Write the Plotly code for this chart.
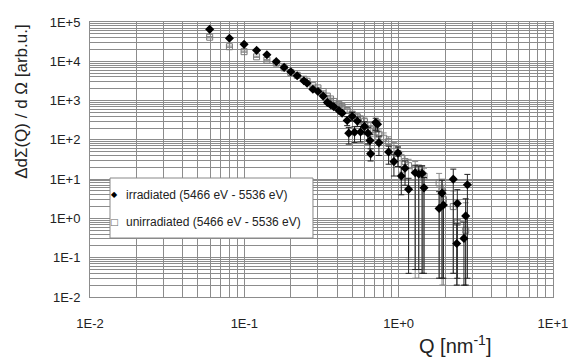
import plotly.graph_objects as go

# ---------------- data ----------------
irr_q = [0.0596, 0.080, 0.0996, 0.120, 0.140, 0.161, 0.181, 0.200, 0.220, 0.243,
         0.255, 0.278, 0.300, 0.324, 0.345, 0.362, 0.380, 0.410, 0.430, 0.464,
         0.475, 0.500, 0.518, 0.540, 0.566, 0.600, 0.632, 0.652, 0.658, 0.710,
         0.730, 0.745, 0.861, 0.932, 0.990, 1.04, 1.10, 1.16, 1.28, 1.35,
         1.42, 1.46, 1.83, 1.91, 1.95, 2.26, 2.38, 2.40, 2.65, 2.72, 2.79]
irr_i = [6.5e4, 3.85e4, 2.7e4, 1.9e4, 1.47e4, 9.8e3, 7.0e3, 5.4e3, 4.3e3, 3.2e3,
         2.75e3, 1.95e3, 1.7e3, 1.3e3, 900, 780, 700, 560, 480, 310,
         148, 400, 156, 300, 158, 220, 148, 96, 44, 275,
         250, 85, 49, 28, 46, 12, 19, 5.5, 14.6, 13.5,
         14, 6.0, 1.8, 4.4, 2.2, 10, 0.23, 2.4, 0.31, 1.16, 7.2]
irr_err_hi = [2e3, 1.2e3, 800, 600, 450, 300, 220, 170, 140, 110,
              100, 80, 70, 60, 50, 45, 40, 40, 40, 80,
              60, 100, 60, 80, 60, 70, 60, 40, 15, 80,
              70, 40, 20, 15, 20, 8, 10, 5, 8, 8,
              8, 5, 3, 5, 3, 8, 0.5, 3, 0.5, 2, 6]
irr_err_lo = [2e3, 1.2e3, 800, 600, 450, 300, 220, 170, 140, 110,
              100, 80, 70, 60, 50, 45, 40, 40, 40, 80,
              70, 100, 70, 80, 70, 80, 70, 50, 15, 100,
              90, 45, 25, 16, 25, 8, 12, 5.46, 14.55, 13.45,
              13.96, 5.96, 1.77, 4.37, 2.17, 9.96, 0.21, 2.37, 0.29, 1.14, 7.17]

unirr_q = [0.0596, 0.080, 0.0996, 0.120, 0.140, 0.161, 0.181, 0.200, 0.220, 0.243,
           0.255, 0.278, 0.300, 0.324, 0.345, 0.362, 0.380, 0.410, 0.430, 0.464,
           0.500, 0.540, 0.566, 0.600, 0.632, 0.660, 0.710, 0.745, 0.800, 0.861,
           0.932, 0.990, 1.04, 1.10, 1.16, 1.28, 1.35, 1.42, 1.46, 1.83,
           1.91, 1.95, 2.26, 2.40, 2.72]
unirr_i = [4.1e4, 2.35e4, 1.76e4, 1.3e4, 1.07e4, 9.0e3, 6.8e3, 5.2e3, 4.4e3, 3.5e3,
           3.1e3, 2.4e3, 2.1e3, 1.7e3, 1.3e3, 1.1e3, 950, 800, 700, 560,
           450, 380, 330, 290, 230, 180, 160, 140, 110, 90,
           60, 45, 35, 28, 22, 18, 15, 13, 12, 8,
           5, 3, 2, 0.8, 0.5]
unirr_err_hi = [1.5e3, 900, 600, 450, 350, 300, 220, 170, 150, 120,
                110, 90, 80, 70, 60, 50, 50, 50, 50, 60,
                70, 80, 80, 70, 60, 50, 50, 50, 40, 30,
                25, 20, 15, 12, 10, 10, 8, 8, 7, 6,
                5, 4, 3, 2, 2]
unirr_err_lo = [1.5e3, 900, 600, 450, 350, 300, 220, 170, 150, 120,
                110, 90, 80, 70, 60, 50, 50, 50, 50, 60,
                70, 80, 80, 70, 60, 60, 60, 60, 50, 40,
                30, 25, 20, 18, 21.9, 17.97, 14.97, 12.96, 11.95, 7.97,
                4.98, 2.98, 1.96, 0.78, 0.48]

irr_name = "irradiated (5466 eV - 5536 eV)"
unirr_name = "unirradiated (5466 eV - 5536 eV)"

x_decades = [-2, -1, 0, 1]
y_decades = [-2, -1, 0, 1, 2, 3, 4, 5]


def fmt(k):
    return "1E+%d" % k if k >= 0 else "1E%d" % k


def log_ticks(decades):
    vals, texts = [], []
    for k in decades:
        for m in range(1, 10):
            if k == decades[-1] and m > 1:
                break
            vals.append(m * 10.0 ** k)
            texts.append(fmt(k) if m == 1 else " ")
    return vals, texts


xv, xt = log_ticks(x_decades)
yv, yt = log_ticks(y_decades)

font_main = "Liberation Sans, Arial, sans-serif"
txt_col = "#222222"

fig = go.Figure()
fig.add_trace(go.Scatter(
    x=unirr_q, y=unirr_i, mode="markers", name=unirr_name, showlegend=False,
    marker=dict(symbol="square-open", size=6, color="#7a7a7a", line=dict(width=1, color="#7a7a7a")),
    error_y=dict(type="data", symmetric=False, array=unirr_err_hi, arrayminus=unirr_err_lo,
                 color="#8a8a8a", thickness=1, width=3),
))
fig.add_trace(go.Scatter(
    x=irr_q, y=irr_i, mode="markers", name=irr_name, showlegend=False,
    marker=dict(symbol="diamond", size=7, color="black"),
    error_y=dict(type="data", symmetric=False, array=irr_err_hi, arrayminus=irr_err_lo,
                 color="#222222", thickness=1, width=3),
))

# legend box (drawn in paper coordinates)
fig.add_shape(type="rect", xref="paper", yref="paper",
              x0=0.0432, x1=0.4816, y0=0.2145, y1=0.4327,
              fillcolor="white", line=dict(color="#888888", width=1), layer="above")

legend_font = dict(family=font_main, size=12, color=txt_col)
annotations = [
    dict(text="◆", xref="paper", yref="paper", x=0.052, y=0.371, xanchor="center",
         yanchor="middle", showarrow=False, font=dict(family="DejaVu Sans", size=8, color="black")),
    dict(text=irr_name, xref="paper", yref="paper", x=0.0734, y=0.371, xanchor="left",
         yanchor="middle", showarrow=False, font=legend_font),
    dict(text="□", xref="paper", yref="paper", x=0.052, y=0.273, xanchor="center",
         yanchor="middle", showarrow=False, font=dict(family="DejaVu Sans", size=9, color="#666666")),
    dict(text=unirr_name, xref="paper", yref="paper", x=0.0734, y=0.273, xanchor="left",
         yanchor="middle", showarrow=False, font=legend_font),
    dict(text="Q [nm<sup>-1</sup>]", xref="paper", yref="paper", x=0.788, y=-0.172,
         xanchor="center", yanchor="middle", showarrow=False,
         font=dict(size=20, color=txt_col)),
    dict(text="ΔdΣ(Q) / d Ω [arb.u.]", xref="paper", yref="paper", x=-0.147, y=0.713,
         xanchor="center", yanchor="middle", showarrow=False, textangle=-90,
         font=dict(size=17, color=txt_col)),
]

fig.update_layout(
    width=568, height=358,
    margin=dict(l=90, r=15, t=22, b=61, autoexpand=False),
    paper_bgcolor="white", plot_bgcolor="white",
    font=dict(family=font_main, size=13, color=txt_col),
    showlegend=False,
    xaxis=dict(
        type="log", range=[-2.0005, 1.0005], tickvals=xv, ticktext=xt, tickangle=0,
        showgrid=True, gridcolor="#8c8c8c", gridwidth=1,
        showline=True, linecolor="#8c8c8c", mirror=True,
        ticks="", ticklabelstandoff=14, zeroline=False, automargin=False,
        ticklabeloverflow="allow", tickfont=dict(size=13),
    ),
    yaxis=dict(
        type="log", range=[-2.0005, 5.0005], tickvals=yv, ticktext=yt, tickangle=0,
        showgrid=True, gridcolor="#8c8c8c", gridwidth=1,
        showline=True, linecolor="#8c8c8c", mirror=True,
        ticks="", ticklabelstandoff=6, zeroline=False, automargin=False,
        ticklabeloverflow="allow", tickfont=dict(size=13),
    ),
    annotations=annotations,
)

fig.write_html(
    "out.html",
    config={"displayModeBar": False},
    post_script="document.body.style.margin='0';document.body.style.padding='0';",
)
